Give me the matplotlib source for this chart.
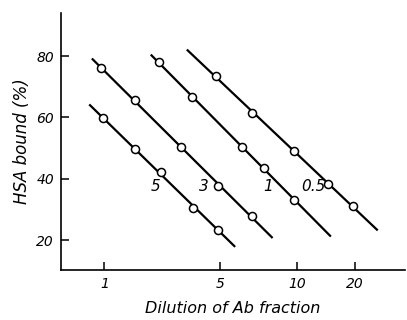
import matplotlib
matplotlib.use("Agg")
import matplotlib.pyplot as plt
import numpy as np

# dilution series, one per Ab fraction amount
series_names = ["5", "3", "1", "0.5"]

dilution_5 = [0.98, 1.44, 1.97, 2.88, 3.91]
bound_5 = [59.7, 49.7, 42.3, 30.5, 23.3]

dilution_3 = [0.96, 1.44, 2.50, 3.88, 5.84]
bound_3 = [76.2, 65.6, 50.4, 37.7, 27.9]

dilution_1 = [1.92, 2.87, 5.21, 6.79, 9.68]
bound_1 = [77.9, 66.5, 50.4, 43.4, 33.0]

dilution_05 = [3.81, 5.84, 9.68, 14.6, 19.5]
bound_05 = [73.5, 61.5, 49.0, 38.2, 31.2]

# extent of each fitted line along the dilution axis
line_start = [0.843, 0.87, 1.76, 2.71]
line_end = [4.74, 7.42, 14.9, 26.1]

# where the series labels sit
label_x = [1.85, 3.30, 7.12, 12.2]
label_y = [37.4, 37.4, 37.6, 37.6]

tick_pos = [1, 4, 10, 20]
tick_labels = ["1", "5", "10", "20"]
ytick_pos = [20, 40, 60, 80]

xs = [dilution_5, dilution_3, dilution_1, dilution_05]
ys = [bound_5, bound_3, bound_1, bound_05]

plt.rcParams["font.family"] = ["DejaVu Sans"]
plt.rcParams["font.style"] = "italic"

fig = plt.figure(figsize=(4.07, 3.2), dpi=100)
ax = fig.add_axes([0.150, 0.156, 0.845, 0.803])
ax.set_xscale("log")

for i in range(len(series_names)):
    lx = np.log10(xs[i])
    slope, intercept = np.polyfit(lx, ys[i], 1)
    ends = np.log10([line_start[i], line_end[i]])
    ax.plot(10 ** ends, slope * ends + intercept, color="black", lw=1.6,
            zorder=2)
    ax.plot(xs[i], ys[i], "o", ms=5.8, mfc="white", mec="black", mew=1.1,
            zorder=3)
    ax.text(label_x[i], label_y[i], series_names[i], fontsize=11,
            ha="center", va="center", style="italic")

ax.set_xlim(0.596, 36.5)
ax.set_ylim(10.2, 94)

ax.set_xticks(tick_pos)
ax.set_xticklabels(tick_labels)
ax.xaxis.set_minor_locator(matplotlib.ticker.NullLocator())
ax.set_yticks(ytick_pos)

ax.tick_params(axis="both", direction="in", length=6, width=1.1,
               labelsize=10, pad=5)
for lab in ax.get_xticklabels() + ax.get_yticklabels():
    lab.set_style("italic")

for side in ["top", "right"]:
    ax.spines[side].set_visible(False)
for side in ["left", "bottom"]:
    ax.spines[side].set_linewidth(1.2)

ax.set_xlabel("Dilution of Ab fraction", fontsize=11.5, style="italic",
              labelpad=7)
ax.set_ylabel("HSA bound (%)", fontsize=12, style="italic", labelpad=4)

fig.savefig("out.png", dpi=100)
plt.close(fig)
